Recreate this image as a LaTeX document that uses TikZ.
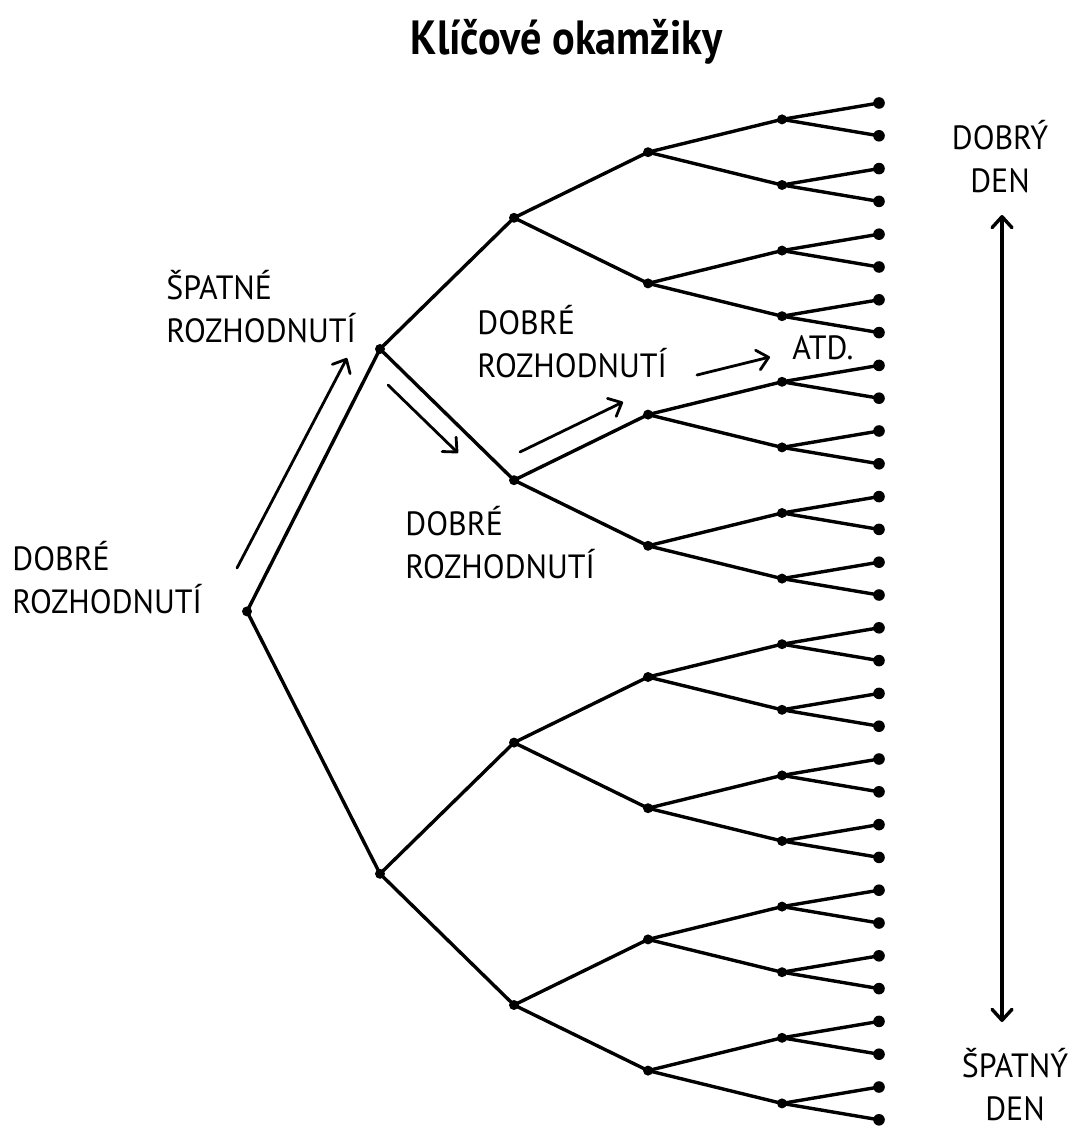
\documentclass[tikz,border=0pt]{standalone}
\usepackage{fontspec}
\setmainfont{PT Sans}[FakeStretch=0.95]
\newfontfamily\titlefont{PT Sans}[FakeStretch=0.88]
\usetikzlibrary{arrows.meta,positioning}

\begin{document}
\begin{tikzpicture}[x=0.5pt, y=-0.5pt,
  >={Straight Barb[length=5.5pt, width=10pt, round]},
  dot/.style={circle, fill, inner sep=0pt, minimum size=5pt},
  leaf/.style={dot, minimum size=5.8pt},
  edge/.style={line width=1.7pt},
  hint/.style={->, line width=1.4pt, line cap=round},
  lbl/.style={font=\fontsize{16.8}{21.5}\selectfont, inner sep=0pt}]
  \useasboundingbox (0,0) rectangle (1075,1133);
  \node[font=\titlefont\bfseries\fontsize{24}{28}\selectfont, anchor=base]
    (title) at (567,55) {Klíčové okamžiky};

  \foreach \lv/\xx in {0/247,1/380,2/514,3/648,4/782,5/879}{
    \pgfmathtruncatemacro\cnt{2^\lv-1}
    \pgfmathtruncatemacro\nleaf{2^(5-\lv)}
    \foreach \i in {0,...,\cnt}{
      \pgfmathsetmacro\yy{103+32.8*(\nleaf*\i+(\nleaf-1)/2)}
      \ifnum\lv=5
        \node[leaf] (n\lv-\i) at (\xx,\yy) {};
      \else
        \node[dot] (n\lv-\i) at (\xx,\yy) {};
      \fi
    }
  }
  \foreach \lv in {1,...,5}{
    \pgfmathtruncatemacro\up{\lv-1}
    \pgfmathtruncatemacro\cnt{2^\lv-1}
    \foreach \i in {0,...,\cnt}{
      \pgfmathtruncatemacro\pp{int(\i/2)}
      \draw[edge] (n\up-\pp.center) -- (n\lv-\i.center);
    }
  }

  \node[lbl, align=left, anchor=base west] (start) at (12,613) {DOBRÉ\\ROZHODNUTÍ};
  \node[lbl, align=left, anchor=base west] (bad) at (166,343) {ŠPATNÉ\\ROZHODNUTÍ};
  \node[lbl, align=left, anchor=base west] (good1) at (405,578) {DOBRÉ\\ROZHODNUTÍ};
  \node[lbl, align=left, anchor=base west] (good2) at (477,378) {DOBRÉ\\ROZHODNUTÍ};
  \node[lbl, anchor=base west] (etc) at (792,360) {ATD.};
  \node[lbl, align=center, anchor=base] (goodday) at (1000,193) {DOBRÝ\\DEN};
  \node[lbl, align=center, anchor=base] (badday) at (1015,1120) {ŠPATNÝ\\DEN};

  \coordinate (a1s) at (237,568);
  \coordinate (a1e) at (347,358);
  \coordinate (a2s) at (388,385);
  \coordinate (a2e) at (458,453);
  \coordinate (a3s) at (520,452);
  \coordinate (a3e) at (623,402);
  \coordinate (a4s) at (697,375);
  \coordinate (a4e) at (770,357);
  \draw[hint] (a1s) -- (a1e);
  \draw[hint] (a2s) -- (a2e);
  \draw[hint] (a3s) -- (a3e);
  \draw[hint] (a4s) -- (a4e);

  \coordinate (top) at (1002,215);
  \coordinate (bottom) at (1002,1022);
  \draw[<->, line width=1.7pt] (top) -- (bottom);
\end{tikzpicture}
\end{document}
